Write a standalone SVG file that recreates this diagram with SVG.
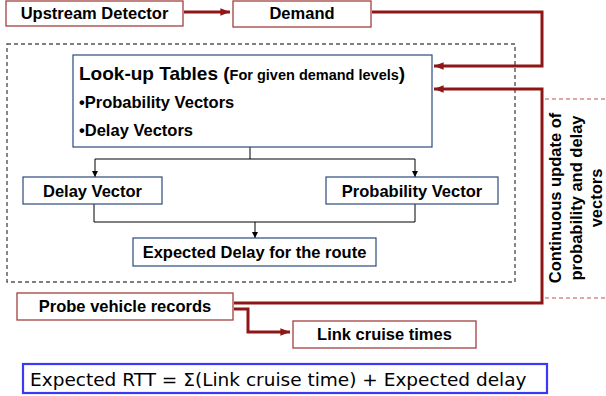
<svg xmlns="http://www.w3.org/2000/svg" width="606" height="396" viewBox="0 0 606 396">
<defs>
<style>
.rbox{fill:#fff;stroke:#A0403E;stroke-width:1.3}
.bbox{fill:#fff;stroke:#2B4A7C;stroke-width:1.2}
.t{font-family:"Liberation Sans",Arial,sans-serif;font-weight:bold;font-size:16.5px;fill:#000;text-anchor:middle}
.red{fill:none;stroke:#8E1616;stroke-width:3}
.blk{fill:none;stroke:#000;stroke-width:1}
</style>
<marker id="ra" viewBox="0 0 10 10" refX="10" refY="5" markerWidth="3.2" markerHeight="3.2" markerUnits="strokeWidth" orient="auto"><path d="M0,1 L10,5 L0,9 z" fill="#8E1616"/></marker>
<marker id="ka" viewBox="0 0 10 10" refX="10" refY="5" markerWidth="6" markerHeight="6" markerUnits="userSpaceOnUse" orient="auto"><path d="M0,0 L10,5 L0,10 z" fill="#000"/></marker>
</defs>
<rect width="606" height="396" fill="#fff"/>
<rect x="7" y="44" width="508" height="238" fill="none" stroke="#555" stroke-width="1.4" stroke-dasharray="4,3"/>
<g id="connectors">
<path class="red" d="M184,12 H230" marker-end="url(#ra)"/>
<path class="red" d="M372,12 H542 V66 H434" marker-end="url(#ra)"/>
<path class="red" d="M234,303 H542 V89 H434" marker-end="url(#ra)"/>
<path class="red" d="M234,309 H248 V332 H290" marker-end="url(#ra)"/>
<path class="blk" d="M250,147 V159 M95,159 H415" />
<path class="blk" d="M95,159 V177" marker-end="url(#ka)"/>
<path class="blk" d="M415,159 V177" marker-end="url(#ka)"/>
<path class="blk" d="M94,204 V222 H415 V204"/>
<path class="blk" d="M255,222 V238" marker-end="url(#ka)"/>
<path d="M545,99 H606 M545,298 H606" stroke="#C0504D" stroke-width="1" stroke-dasharray="4,3" fill="none"/>
</g>
<g id="upstream"><rect class="rbox" x="6" y="1" width="177" height="25"/><text class="t" x="94.5" y="19">Upstream Detector</text></g>
<g id="demand"><rect class="rbox" x="233" y="1" width="138" height="26"/><text class="t" x="302" y="19">Demand</text></g>
<g id="lookup"><rect class="bbox" x="73" y="55" width="359" height="92"/>
<text x="79" y="80" font-family="Liberation Sans,Arial,sans-serif" font-weight="bold" font-size="19">Look-up Tables (<tspan font-size="14.5">For given demand levels</tspan>)</text>
<text x="79" y="108" font-family="Liberation Sans,Arial,sans-serif" font-weight="bold" font-size="16.5">•Probability Vectors</text>
<text x="79" y="136" font-family="Liberation Sans,Arial,sans-serif" font-weight="bold" font-size="16.5">•Delay Vectors</text></g>
<g id="delayvec"><rect class="bbox" x="23" y="177" width="139" height="27"/><text class="t" x="92.5" y="197">Delay Vector</text></g>
<g id="probvec"><rect class="bbox" x="326" y="177" width="172" height="27"/><text class="t" x="412" y="197">Probability Vector</text></g>
<g id="expdelay"><rect class="bbox" x="133" y="238" width="243" height="28"/><text class="t" x="254.5" y="258">Expected Delay for the route</text></g>
<g id="probe"><rect class="rbox" x="17" y="293" width="216" height="27"/><text class="t" x="125" y="312">Probe vehicle records</text></g>
<g id="link"><rect class="rbox" x="293" y="321" width="183" height="27"/><text class="t" x="384.5" y="340">Link cruise times</text></g>
<g id="update"><text transform="translate(0,198) rotate(-90)" font-family="Liberation Sans,Arial,sans-serif" font-weight="bold" font-size="16.5" text-anchor="middle"><tspan x="0" y="561">Continuous update of</tspan><tspan x="0" y="582">probability and delay</tspan><tspan x="0" y="602">vectors</tspan></text></g>
<g id="rtt"><rect x="23" y="364" width="524" height="29" fill="#fff" stroke="#3A3AF5" stroke-width="2.2"/><text x="30" y="386" font-family="DejaVu Sans,Verdana,sans-serif" font-size="18.5">Expected RTT = Σ(Link cruise time) + Expected delay</text></g>
</svg>
